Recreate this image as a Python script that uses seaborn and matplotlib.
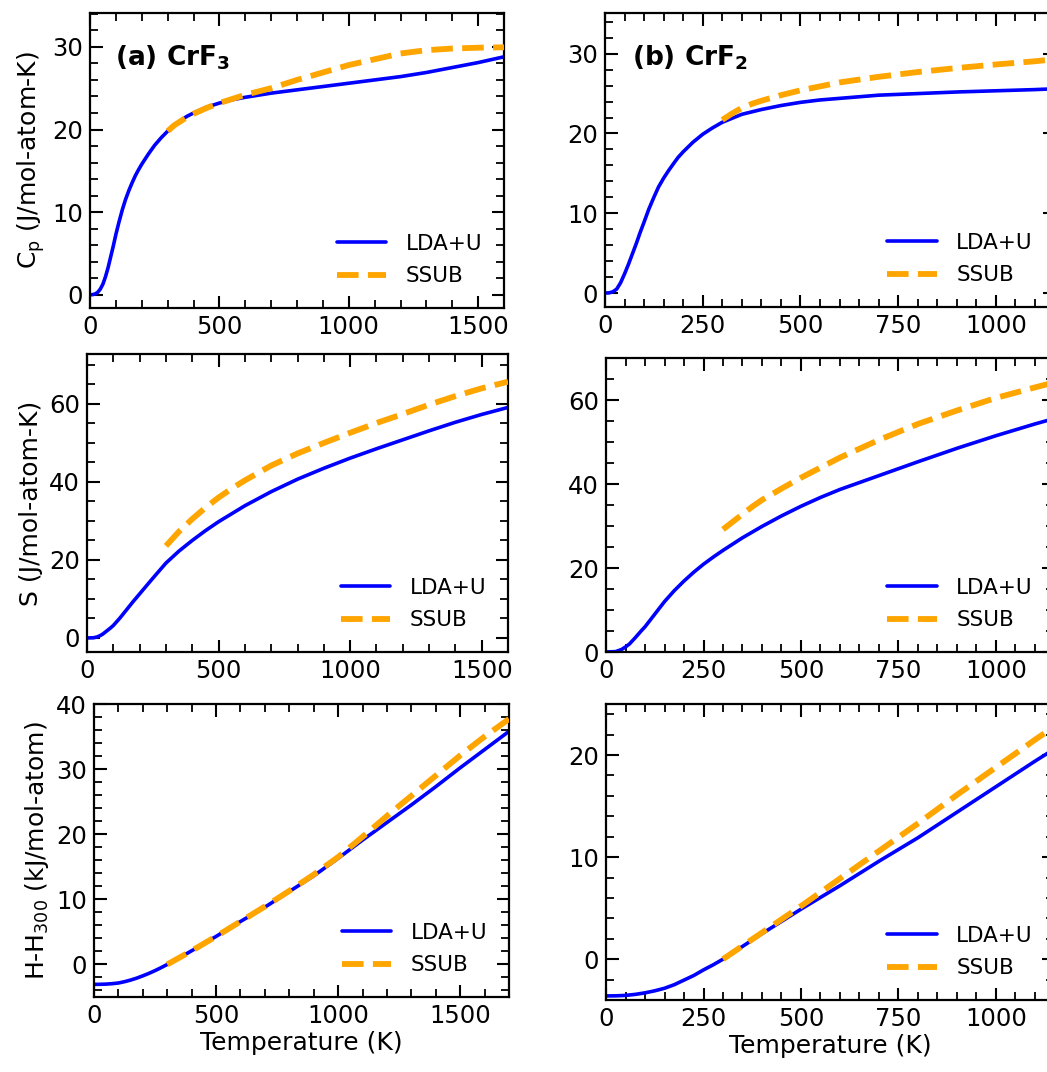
import numpy as np
import pandas as pd
import matplotlib
matplotlib.use("Agg")
import matplotlib.pyplot as plt
from matplotlib.ticker import MultipleLocator
import seaborn as sns

# ---------------- data ----------------
# (a) CrF3 heat capacity
cp_a_T_lda = [0, 10, 20, 30, 40, 50, 60, 70, 80, 90, 100, 112, 125, 137, 150, 162, 175, 187, 200,
              225, 250, 275, 300, 325, 350, 375, 400, 450, 500, 550, 600, 700, 800, 900, 1000,
              1100, 1200, 1300, 1400, 1500, 1600]
cp_a_lda = [0, 0.02, 0.1, 0.3, 0.7, 1.3, 2.2, 3.3, 4.6, 5.9, 7.3, 8.8, 10.3, 11.5, 12.6, 13.5, 14.4,
            15.1, 15.8, 17.0, 18.1, 19.0, 19.8, 20.5, 21.1, 21.6, 22.0, 22.7, 23.2, 23.6, 23.9,
            24.4, 24.8, 25.2, 25.6, 26.0, 26.4, 26.9, 27.5, 28.1, 28.8]
cp_a_T_ssub = [300, 325, 350, 375, 400, 450, 500, 550, 600, 700, 800, 900, 1000, 1100, 1200, 1300,
               1400, 1500, 1600]
cp_a_ssub = [19.8, 20.5, 21.0, 21.5, 21.9, 22.6, 23.2, 23.7, 24.2, 25.0, 26.0, 26.9, 27.8, 28.5,
             29.2, 29.6, 29.8, 29.9, 29.95]

# (b) CrF2 heat capacity
cp_b_T_lda = [0, 10, 20, 30, 40, 50, 60, 70, 80, 90, 100, 112, 125, 137, 150, 162, 175, 187, 200,
              225, 250, 275, 300, 325, 350, 375, 400, 450, 500, 550, 600, 700, 800, 900, 1000, 1100, 1150]
cp_b_lda = [0, 0.02, 0.15, 0.5, 1.3, 2.4, 3.6, 4.9, 6.2, 7.6, 8.9, 10.5, 12.0, 13.3, 14.4, 15.3, 16.2,
            17.0, 17.7, 18.9, 19.9, 20.7, 21.4, 21.9, 22.4, 22.7, 23.0, 23.5, 23.9, 24.2, 24.4,
            24.8, 25.0, 25.2, 25.35, 25.5, 25.6]
cp_b_T_ssub = [300, 325, 350, 375, 400, 450, 500, 550, 600, 700, 800, 900, 1000, 1100, 1150]
cp_b_ssub = [21.7, 22.5, 23.2, 23.7, 24.1, 24.8, 25.4, 25.9, 26.4, 27.1, 27.7, 28.2, 28.65, 29.05, 29.3]

# (a) CrF3 entropy
s_a_T_lda = [0, 25, 40, 50, 60, 75, 90, 100, 125, 150, 175, 200, 250, 300, 350, 400, 450, 500,
             600, 700, 800, 900, 1000, 1100, 1200, 1300, 1400, 1500, 1600]
s_a_lda = [0, 0.05, 0.3, 0.6, 1.0, 1.8, 2.6, 3.2, 5.1, 7.2, 9.3, 11.3, 15.3, 19.2, 22.3, 25.0, 27.5,
           29.8, 33.9, 37.5, 40.7, 43.5, 46.1, 48.5, 50.8, 53.1, 55.3, 57.3, 59.1]
s_a_T_ssub = [300, 350, 400, 450, 500, 550, 600, 700, 800, 900, 1000, 1100, 1200, 1300, 1400, 1500, 1600]
s_a_ssub = [23.6, 27.3, 30.5, 33.4, 36.0, 38.3, 40.4, 44.2, 47.3, 50.0, 52.6, 55.1, 57.4, 59.8,
            62.0, 64.0, 65.7]

# (b) CrF2 entropy
s_b_T_lda = [0, 25, 40, 50, 60, 75, 90, 100, 125, 150, 175, 200, 225, 250, 275, 300, 350, 400, 450,
             500, 550, 600, 700, 800, 900, 1000, 1100, 1150]
s_b_lda = [0, 0.1, 0.6, 1.2, 1.9, 3.4, 5.0, 6.0, 9.0, 12.0, 14.6, 16.9, 19.0, 20.9, 22.6, 24.2,
           27.2, 29.9, 32.4, 34.7, 36.8, 38.7, 42.0, 45.3, 48.5, 51.5, 54.3, 55.6]
s_b_T_ssub = [300, 325, 350, 375, 400, 450, 500, 600, 700, 800, 900, 1000, 1100, 1150]
s_b_ssub = [29.2, 31.0, 32.8, 34.6, 36.2, 38.9, 41.5, 46.3, 50.5, 54.3, 57.5, 60.5, 63.0, 64.2]

# (a) CrF3 enthalpy H - H300
h_a_T_lda = [0, 25, 50, 75, 100, 125, 150, 175, 200, 225, 250, 275, 300, 350, 400, 500, 600, 700,
             800, 900, 1000, 1100, 1200, 1300, 1400, 1500, 1600, 1700]
h_a_lda = [-3.06, -3.05, -3.02, -2.95, -2.85, -2.65, -2.4, -2.1, -1.75, -1.37, -0.95, -0.49, 0,
           1.03, 2.1, 4.3, 6.6, 8.8, 11.2, 13.6, 16.3, 19.1, 21.8, 24.5, 27.3, 30.2, 33.0, 35.8]
h_a_T_ssub = [300, 400, 500, 600, 700, 800, 900, 1000, 1100, 1200, 1300, 1400, 1500, 1600, 1700]
h_a_ssub = [0, 2.1, 4.3, 6.6, 8.9, 11.3, 13.8, 16.5, 19.6, 22.8, 25.9, 29.0, 32.1, 35.0, 37.7]

# (b) CrF2 enthalpy H - H300
h_b_T_lda = [0, 25, 50, 75, 100, 125, 150, 175, 200, 225, 250, 275, 300, 350, 400, 500, 600, 700,
             800, 900, 1000, 1100, 1150]
h_b_lda = [-3.6, -3.59, -3.55, -3.45, -3.3, -3.1, -2.85, -2.5, -2.05, -1.6, -1.05, -0.55, 0, 1.25,
           2.5, 4.9, 7.2, 9.6, 11.9, 14.4, 16.9, 19.4, 20.6]
h_b_T_ssub = [300, 400, 500, 600, 700, 800, 900, 1000, 1100, 1150]
h_b_ssub = [0, 2.6, 5.2, 7.9, 10.6, 13.3, 16.1, 18.8, 21.5, 22.8]

series_labels = ["LDA+U", "SSUB"]
panel_titles = [r"(a) CrF$_\mathbf{3}$", r"(b) CrF$_\mathbf{2}$"]
y_labels = [r"C$_\mathrm{p}$ (J/mol-atom-K)", "S (J/mol-atom-K)", r"H-H$_{300}$ (kJ/mol-atom)"]
x_label = "Temperature (K)"

# ---------------- style ----------------
sns.set_style("ticks")
plt.rcParams.update({
    "font.family": ["DejaVu Sans"],
    "text.color": "black", "axes.labelcolor": "black",
    "axes.edgecolor": "black", "xtick.color": "black", "ytick.color": "black",
    "axes.linewidth": 1.6,
    "xtick.direction": "in", "ytick.direction": "in",
    "xtick.top": True, "ytick.right": True,
    "xtick.major.size": 9, "ytick.major.size": 9,
    "xtick.minor.size": 6, "ytick.minor.size": 6,
    "xtick.major.width": 1.5, "ytick.major.width": 1.5,
    "xtick.minor.width": 1.3, "ytick.minor.width": 1.3,
    "xtick.labelsize": 17.5, "ytick.labelsize": 17.5,
    "axes.labelsize": 18,
    "xtick.major.pad": 5, "ytick.major.pad": 5,
})

W, H = 1047, 1072
fig = plt.figure(figsize=(W / 100, H / 100), dpi=100)

def add_ax(l, r, t, b):
    return fig.add_axes([l / W, 1 - b / H, (r - l) / W, (b - t) / H])

# pixel boxes (left, right, top, bottom)
boxes = [
    [(90, 504, 13, 308), (605, 1054.5, 13, 307)],
    [(87, 508, 354, 652), (606, 1054.5, 358, 652)],
    [(94, 509, 704, 997), (606, 1054.5, 704, 1000)],
]

data = [
    [(cp_a_T_lda, cp_a_lda, cp_a_T_ssub, cp_a_ssub), (cp_b_T_lda, cp_b_lda, cp_b_T_ssub, cp_b_ssub)],
    [(s_a_T_lda, s_a_lda, s_a_T_ssub, s_a_ssub), (s_b_T_lda, s_b_lda, s_b_T_ssub, s_b_ssub)],
    [(h_a_T_lda, h_a_lda, h_a_T_ssub, h_a_ssub), (h_b_T_lda, h_b_lda, h_b_T_ssub, h_b_ssub)],
]

xlims = [[(0, 1600), (0, 1150)], [(0, 1600), (0, 1150)], [(0, 1700), (0, 1150)]]
ylims = [[(-1.6, 34.1), (-1.75, 35.1)], [(-3.6, 72.8), (0, 70)], [(-5, 40), (-4, 25)]]
x_major = [500, 250]
x_minor = [100, 50]
y_major = [[10, 10], [20, 20], [10, 10]]
y_minor = [[2, 2], [5, 5], [2, 2]]

for r in range(3):
    for c in range(2):
        ax = add_ax(*boxes[r][c])
        Tl, vl, Ts, vs = data[r][c]
        df_l = pd.DataFrame({"T": Tl, "v": vl})
        df_s = pd.DataFrame({"T": Ts, "v": vs})
        sns.lineplot(data=df_l, x="T", y="v", ax=ax, color="blue", lw=2.6,
                     label=series_labels[0], zorder=2)
        sns.lineplot(data=df_s, x="T", y="v", ax=ax, color="orange", lw=4.2,
                     linestyle="--", label=series_labels[1], zorder=3)
        ax.set_xlim(*xlims[r][c])
        ax.set_ylim(*ylims[r][c])
        ax.xaxis.set_major_locator(MultipleLocator(x_major[c]))
        ax.xaxis.set_minor_locator(MultipleLocator(x_minor[c]))
        ax.yaxis.set_major_locator(MultipleLocator(y_major[r][c]))
        ax.yaxis.set_minor_locator(MultipleLocator(y_minor[r][c]))
        ax.tick_params(which="both", top=True, right=True, direction="in")
        ax.set_xlabel(x_label if r == 2 else "", labelpad=2)
        ax.set_ylabel(y_labels[r] if c == 0 else "")
        ax.legend(loc="lower right", frameon=False, fontsize=15.5,
                  handlelength=2.3, handletextpad=0.9, labelspacing=0.6,
                  borderaxespad=0.6)
        if r == 0:
            ax.text(0.06, 0.80, panel_titles[c], transform=ax.transAxes,
                    fontsize=19, fontweight="bold", va="bottom", ha="left")

fig.savefig("out.png", dpi=100)
